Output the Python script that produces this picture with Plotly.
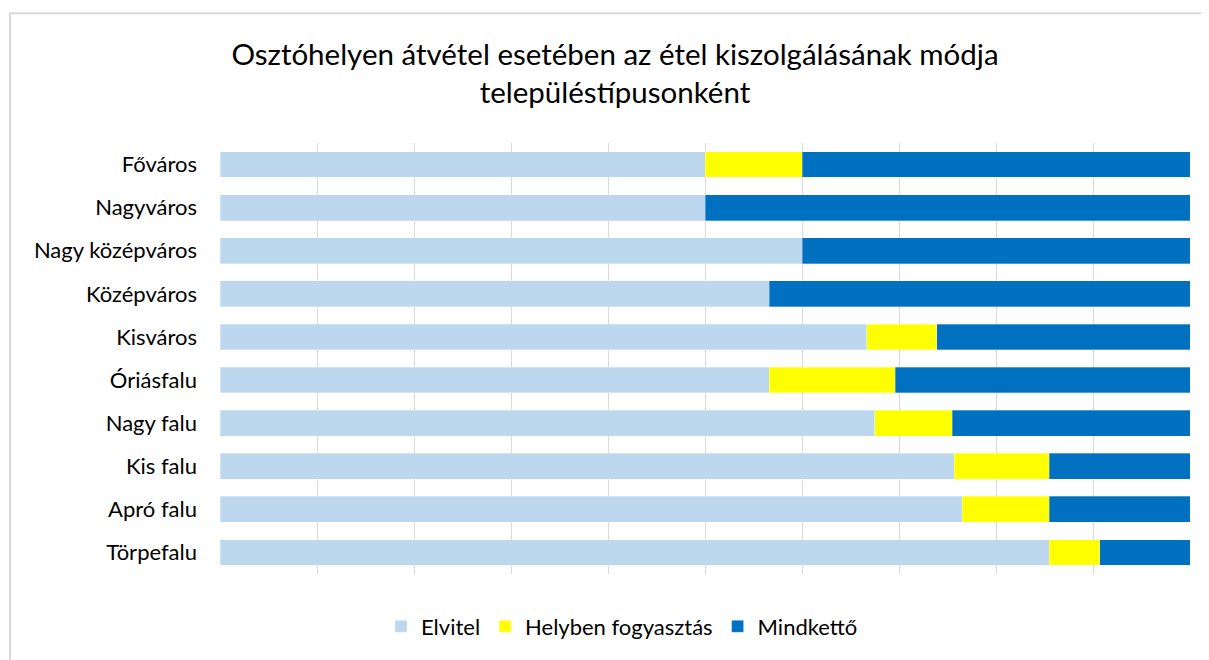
import plotly.graph_objects as go

categories = ["Főváros", "Nagyváros", "Nagy középváros", "Középváros", "Kisváros",
              "Óriásfalu", "Nagy falu", "Kis falu", "Apró falu", "Törpefalu"]
elvitel = [50.0, 50.0, 60.0, 56.6, 66.7, 56.6, 67.5, 75.7, 76.5, 85.5]
helyben = [10.0, 0.0, 0.0, 0.0, 7.2, 13.0, 8.0, 9.8, 9.0, 5.2]
mindketto = [40.0, 50.0, 40.0, 43.4, 26.1, 30.4, 24.5, 14.5, 14.5, 9.3]

series = [("Elvitel", elvitel, "#bdd7ee"),
          ("Helyben fogyasztás", helyben, "#ffff00"),
          ("Mindkettő", mindketto, "#0070c0")]

FONT = "Lato"
OFF = 8  # page body margin
fig = go.Figure()
for name, vals, col in series:
    fig.add_trace(go.Bar(y=categories, x=vals, name=name, orientation="h",
                         marker=dict(color=col, line=dict(width=0.6, color="rgba(255,255,255,0.5)")),
                         width=0.6))

W, H = 1209 - OFF, 660 - OFF
L, R, T, B = 220 - OFF, 19, 143 - OFF, 82
pw, ph = W - L - R, H - T - B

fig.update_layout(
    width=W, height=H,
    barmode="stack", barnorm="percent",
    paper_bgcolor="white", plot_bgcolor="white",
    margin=dict(l=L, r=R, t=T, b=B),
    font=dict(family=FONT, color="#000000", size=22),
    title=dict(text="Osztóhelyen átvétel esetében az étel kiszolgálásának módja<br>településtípusonként",
               x=(615 - OFF - L) / pw, xref="paper", xanchor="center",
               y=1 - 57 / H, yref="container", yanchor="middle",
               font=dict(family=FONT, size=29.5, color="#000000")),
    xaxis=dict(range=[0, 100], dtick=10, showticklabels=False, showgrid=True,
               gridcolor="#d9d9d9", gridwidth=1, zeroline=False, showline=False,
               fixedrange=True),
    yaxis=dict(autorange="reversed", showgrid=False, zeroline=False, showline=False,
               ticks="", ticklabelstandoff=22, tickfont=dict(size=22, family=FONT)),
    legend=dict(orientation="h", x=(622 - OFF - L) / pw, xanchor="center",
                y=-(631 - OFF - (T + ph)) / ph, yanchor="middle",
                font=dict(size=22, family=FONT), traceorder="normal",
                itemwidth=30),
    showlegend=True,
)

# outer chart border (left and top edges visible)
fig.add_shape(type="rect", xref="paper", yref="paper",
              x0=(10 - OFF - L) / pw, x1=(1230 - OFF - L) / pw,
              y0=1 + (T - (12 - OFF)) / ph, y1=-(700 - (T + ph)) / ph,
              line=dict(color="#d9d9d9", width=2), layer="below")

fig.write_html("out.html")
